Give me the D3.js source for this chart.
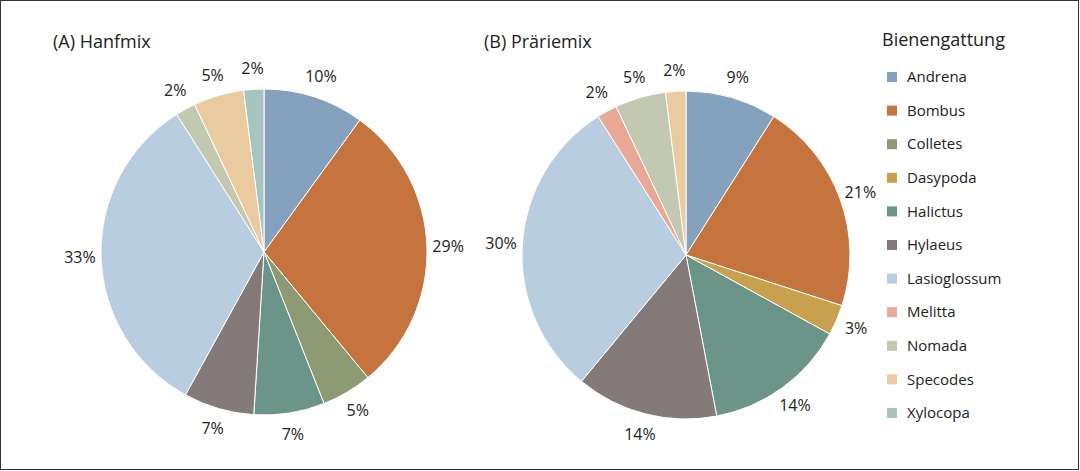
<!DOCTYPE html><html><head><meta charset="utf-8">
<script src="https://cdn.jsdelivr.net/npm/d3@7"></script>
<style>body{margin:0;background:#fff}text{font-family:"Open Sans","Noto Sans",sans-serif;fill:#222}</style></head><body>
<svg id="c" width="1080" height="471"></svg>
<script>
const categories=["Andrena","Bombus","Colletes","Dasypoda","Halictus","Hylaeus","Lasioglossum","Melitta","Nomada","Specodes","Xylocopa"];
const colors=["#84a2be","#c6743e","#8e9a73","#c9a04e","#6a9588","#857a7a","#b9cde0","#e9a996","#c3c8b0","#e9cb9f","#a6c5bf"];
const hanfmix=[10,29,5,0,7,7,33,0,2,5,2];
const praeriemix=[9,21,0,3,14,14,30,2,5,2,0];
const svg=d3.select("#c");
svg.append("rect").attr("x",0.5).attr("y",0.5).attr("width",1078).attr("height",469).attr("fill","none").attr("stroke","#333");
const color=d3.scaleOrdinal(categories,colors);
function pie(vals,cx,cy,r,title,tx){
  const g=svg.append("g").attr("transform",`translate(${cx},${cy})`);
  const arcs=d3.pie().sort(null)(vals.map((v,i)=>({v,c:categories[i]})).map(d=>d.v)).map((a,i)=>({...a,c:categories[i]}));
  const arc=d3.arc().innerRadius(0).outerRadius(r);
  const la=d3.arc().innerRadius(r*1.13).outerRadius(r*1.13);
  g.selectAll("path").data(arcs.filter(a=>a.value>0)).join("path").attr("d",arc).attr("fill",d=>color(d.c)).attr("stroke","#fff").attr("stroke-width",1);
  g.selectAll("text").data(arcs.filter(a=>a.value>0)).join("text").attr("transform",d=>`translate(${la.centroid(d)})`)
   .attr("text-anchor","middle").attr("dy","0.35em").attr("font-size",16).text(d=>d.value+"%");
  svg.append("text").attr("x",tx).attr("y",48).attr("font-size",18).text(title);
}
pie(hanfmix,264,252,163,"(A) Hanfmix",53);
pie(praeriemix,686,255,164,"(B) Präriemix",484);
svg.append("text").attr("x",882).attr("y",46).attr("font-size",18).text("Bienengattung");
const ly=d3.scalePoint(categories,[77,413]);
const lg=svg.append("g");
lg.selectAll("rect").data(categories).join("rect").attr("x",887).attr("y",d=>ly(d)-5).attr("width",10).attr("height",10).attr("fill",d=>color(d));
lg.selectAll("text").data(categories).join("text").attr("x",907).attr("y",d=>ly(d)).attr("dy","0.35em").attr("font-size",15).text(d=>d);
</script></body></html>
